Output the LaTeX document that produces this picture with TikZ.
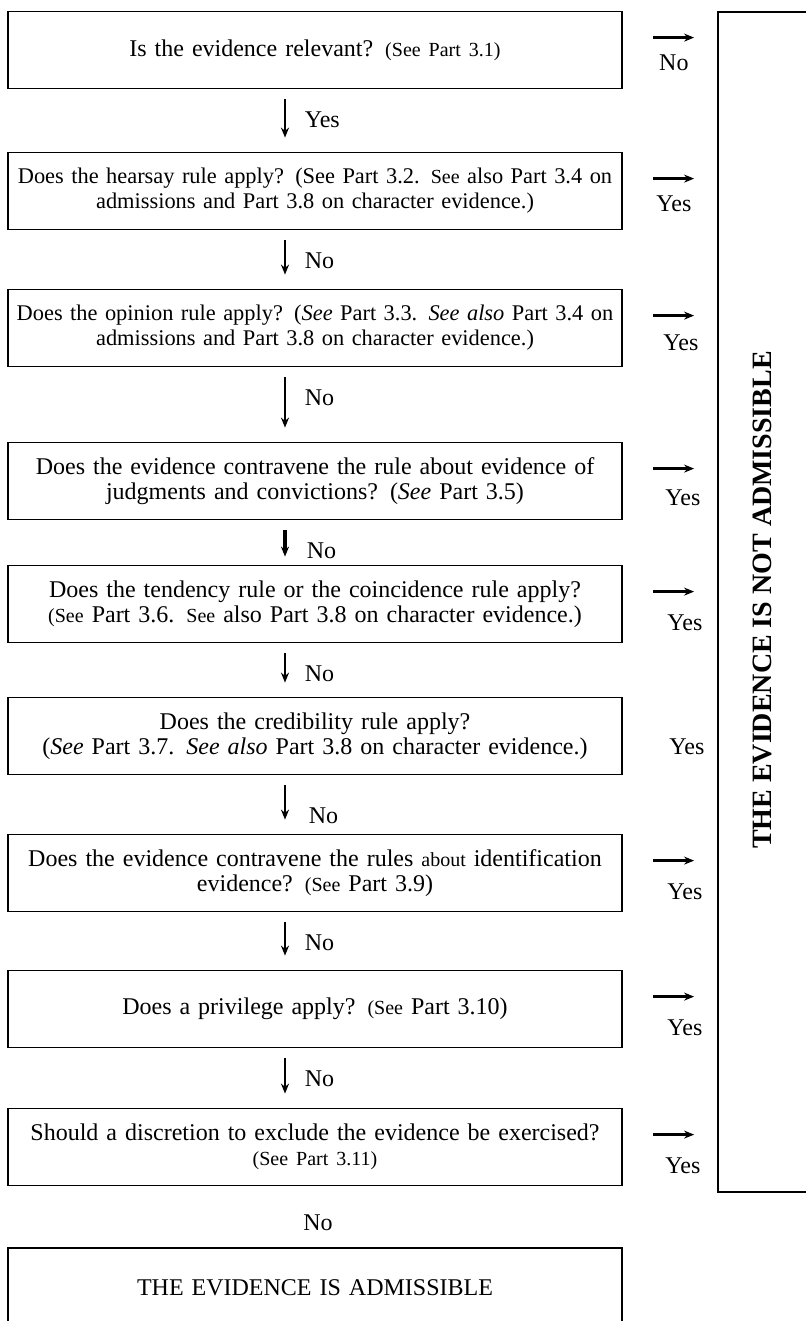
\documentclass[tikz,border=0pt]{standalone}
\usepackage{fontspec}
\setmainfont{Liberation Serif}
\usetikzlibrary{arrows.meta,calc}
\newcommand{\seesize}{\fontsize{10}{12.5}\selectfont}

\begin{document}
\begin{tikzpicture}[x=0.5pt,y=0.5pt,yscale=-1,xscale=1,
    qbox/.style={draw,line width=0.9pt,minimum width=307pt,minimum height=38.5pt,text width=303pt,align=center,inner sep=0pt,font=\fontsize{12}{12.5}\selectfont},
    flow/.style={line width=1pt,-{Stealth[length=5pt,width=4pt]}},
    side/.style={line width=1.3pt,-{Stealth[length=5pt,width=4pt]}},
    lbl/.style={inner sep=0.75pt,font=\fontsize{12}{12}\selectfont}]
        \useasboundingbox (0,0) rectangle (806,1321);
        \clip (0,0) rectangle (806,1321);

        %Shape: Rectangle [not admissible]
        \node [draw,line width=0.9pt,minimum width=50pt,minimum height=590pt,inner sep=0pt] (notadm) at (768,602) {};
        \node [rotate=90,inner sep=0.75pt,font=\fontsize{14}{14}\selectfont\bfseries] (notadmtxt) at (762,600) {THE EVIDENCE IS NOT ADMISSIBLE};

        %Shape: Rectangle [questions]
        \node [qbox] (q1) at (315,50) {Is the evidence relevant? {\seesize (See Part 3.1)}};
        \node [qbox,font=\fontsize{11.2}{12.5}\selectfont] (q2) at (315,191) {Does the hearsay rule apply? (See Part 3.2. {\seesize See} also Part 3.4 on\\ admissions and Part 3.8 on character evidence.)};
        \node [qbox,font=\fontsize{11.2}{12.5}\selectfont] (q3) at (315,328) {Does the opinion rule apply? (\emph{See} Part 3.3. \emph{See also} Part 3.4 on\\ admissions and Part 3.8 on character evidence.)};
        \node [qbox] (q4) at (315,481) {Does the evidence contravene the rule about evidence of\\ judgments and convictions? (\emph{See} Part 3.5)};
        \node [qbox] (q5) at (315,604) {Does the tendency rule or the coincidence rule apply?\\ {\seesize (See} Part 3.6. {\seesize See} also Part 3.8 on character evidence.)};
        \node [qbox] (q6) at (315,736) {Does the credibility rule apply?\\ (\emph{See} Part 3.7. \emph{See also} Part 3.8 on character evidence.)};
        \node [qbox] (q7) at (315,873) {Does the evidence contravene the rules {\seesize about} identification\\ evidence? {\seesize (See} Part 3.9)};
        \node [qbox] (q8) at (315,1009) {Does a privilege apply? {\seesize (See} Part 3.10)};
        \node [qbox] (q9) at (315,1147) {Should a discretion to exclude the evidence be exercised?\\ {\seesize (See Part 3.11)}};
        \node [qbox,minimum height=40pt] (adm) at (315,1288) {THE EVIDENCE IS ADMISSIBLE};

        %Straight Lines [down]
        \draw [flow] ($(q1.south)+(-30,10)$) -- ($(q2.north)+(-30,-14)$);
        \draw [flow] ($(q2.south)+(-30,10)$) -- ($(q3.north)+(-30,-14)$);
        \draw [flow] ($(q3.south)+(-30,10)$) -- ($(q4.north)+(-30,-14)$);
        \draw [flow,line width=2pt] ($(q4.south)+(-30,10)$) -- ($(q5.north)+(-30,-8)$);
        \draw [flow] ($(q5.south)+(-30,10)$) -- ($(q6.north)+(-30,-14)$);
        \draw [flow] ($(q6.south)+(-30,10)$) -- ($(q7.north)+(-30,-14)$);
        \draw [flow] ($(q7.south)+(-30,10)$) -- ($(q8.north)+(-30,-14)$);
        \draw [flow] ($(q8.south)+(-30,10)$) -- ($(q9.north)+(-30,-14)$);

        % Text Node
        \node [lbl,anchor=west] (d1) at ($(q1.south)+(-12,30)$) {Yes};
        \node [lbl,anchor=west] (d2) at ($(q2.south)+(-12,30)$) {No};
        \node [lbl,anchor=west] (d3) at ($(q3.south)+(-12,30)$) {No};
        \node [lbl,anchor=west] (d4) at ($(q4.south)+(-10,30)$) {No};
        \node [lbl,anchor=west] (d5) at ($(q5.south)+(-12,30)$) {No};
        \node [lbl,anchor=west] (d6) at ($(q6.south)+(-8,40)$) {No};
        \node [lbl,anchor=west] (d7) at ($(q7.south)+(-12,30)$) {No};
        \node [lbl,anchor=west] (d8) at ($(q8.south)+(-12,30)$) {No};
        \node [lbl] (d9) at ($(q9.south)+(3,36)$) {No};

        %Straight Lines [side]
        \draw [side] ($(q1.north east)+(30,27)$) -- ($(notadm.west |- q1.north)+(-23,27)$);
        \draw [side] ($(q2.north east)+(30,27)$) -- ($(notadm.west |- q2.north)+(-23,27)$);
        \draw [side] ($(q3.north east)+(30,27)$) -- ($(notadm.west |- q3.north)+(-23,27)$);
        \draw [side] ($(q4.north east)+(30,27)$) -- ($(notadm.west |- q4.north)+(-23,27)$);
        \draw [side] ($(q5.north east)+(30,27)$) -- ($(notadm.west |- q5.north)+(-23,27)$);
        \draw [side] ($(q7.north east)+(30,27)$) -- ($(notadm.west |- q7.north)+(-23,27)$);
        \draw [side] ($(q8.north east)+(30,27)$) -- ($(notadm.west |- q8.north)+(-23,27)$);
        \draw [side] ($(q9.north east)+(30,27)$) -- ($(notadm.west |- q9.north)+(-23,27)$);

        % Text Node
        \node [lbl] (r1) at ($(q1.north east)+(51,52)$) {No};
        \node [lbl] (r2) at ($(q2.north east)+(51,52)$) {Yes};
        \node [lbl] (r3) at ($(q3.north east)+(58,54)$) {Yes};
        \node [lbl] (r4) at ($(q4.north east)+(60,56)$) {Yes};
        \node [lbl] (r5) at ($(q5.north east)+(62,58)$) {Yes};
        \node [lbl] (r6) at ($(q6.north east)+(64,50)$) {Yes};
        \node [lbl] (r7) at ($(q7.north east)+(62,58)$) {Yes};
        \node [lbl] (r8) at ($(q8.north east)+(62,58)$) {Yes};
        \node [lbl] (r9) at ($(q9.north east)+(60,58)$) {Yes};

\end{tikzpicture}
\end{document}
